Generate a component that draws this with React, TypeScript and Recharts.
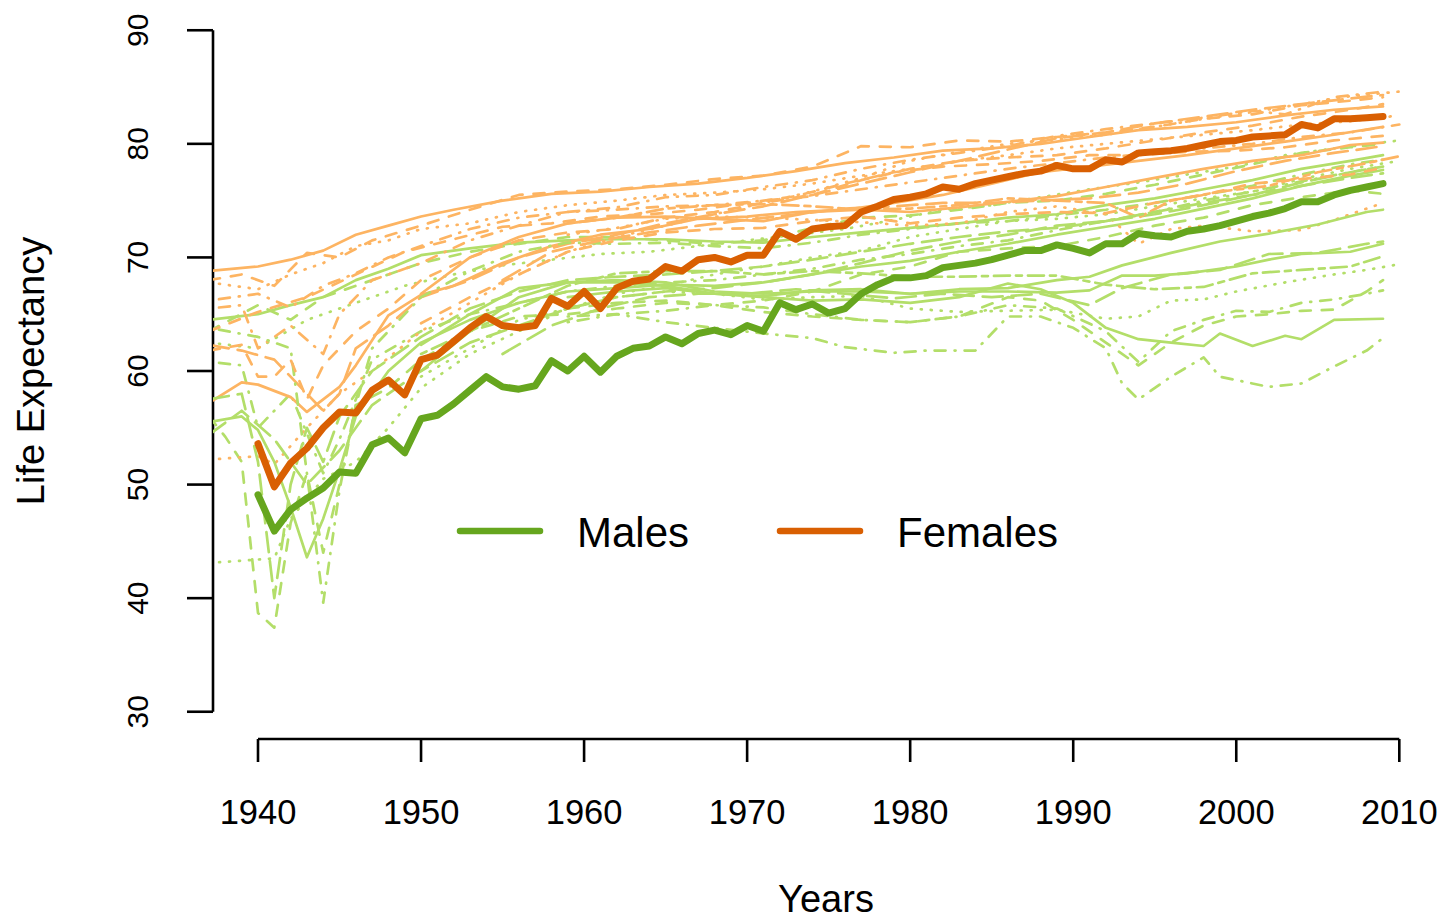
import { LineChart, Line, XAxis, YAxis, ReferenceLine, Legend, Label } from "recharts"

const FONT = '"Liberation Sans", Arial, Helvetica, sans-serif'
const LIGHT_GREEN = "#b3de69"
const LIGHT_ORANGE = "#fdb462"
const DARK_GREEN = "#66a61e"
const DARK_ORANGE = "#d95f02"

const X_TICKS = [1940, 1950, 1960, 1970, 1980, 1990, 2000, 2010]
const Y_TICKS = [30, 40, 50, 60, 70, 80, 90]

// highlighted country, one value per year 1940..2009
const YEARS = Array.from({ length: 70 }, (_, i) => 1940 + i)
const MALES = [
  49.1, 45.9, 47.8, 48.8, 49.7, 51.1, 51.0, 53.5, 54.1, 52.8,
  55.8, 56.1, 57.1, 58.3, 59.5, 58.6, 58.4, 58.7, 60.9, 60.0,
  61.3, 59.9, 61.3, 62.0, 62.2, 63.0, 62.4, 63.3, 63.6, 63.2,
  64.0, 63.5, 66.0, 65.4, 65.9, 65.1, 65.5, 66.8, 67.6, 68.2,
  68.2, 68.4, 69.1, 69.3, 69.5, 69.8, 70.2, 70.6, 70.6, 71.1,
  70.8, 70.4, 71.2, 71.2, 72.1, 71.9, 71.8, 72.3, 72.5, 72.8,
  73.2, 73.6, 73.9, 74.3, 74.9, 74.9, 75.5, 75.9, 76.2, 76.5,
]
const FEMALES = [
  53.6, 49.8, 51.9, 53.2, 55.0, 56.4, 56.3, 58.3, 59.2, 57.9,
  61.0, 61.4, 62.6, 63.8, 64.8, 64.0, 63.8, 64.0, 66.4, 65.7,
  67.0, 65.5, 67.3, 67.9, 68.1, 69.2, 68.8, 69.8, 70.0, 69.6,
  70.2, 70.2, 72.3, 71.6, 72.5, 72.7, 72.8, 74.0, 74.5, 75.1,
  75.3, 75.6, 76.2, 76.0, 76.5, 76.8, 77.1, 77.4, 77.6, 78.1,
  77.8, 77.8, 78.6, 78.4, 79.2, 79.3, 79.4, 79.6, 79.9, 80.2,
  80.3, 80.6, 80.7, 80.8, 81.7, 81.4, 82.2, 82.2, 82.3, 82.4,
]

// other countries, females: [year, life expectancy]
const F01 = [[1937, 68.8], [1940, 69.2], [1942, 69.8], [1944, 70.6], [1946, 72], [1948, 72.8], [1950, 73.6], [1952, 74.2], [1955, 75], [1958, 75.6], [1961, 75.8], [1964, 76.2], [1967, 76.5], [1970, 77], [1973, 77.6], [1976, 78.3], [1979, 78.8], [1982, 79.4], [1985, 79.6], [1988, 80], [1991, 80.6], [1994, 81.2], [1997, 81.5], [2000, 81.9], [2003, 82.5], [2006, 83], [2009, 83.3]]
const F02 = [[1937, 68], [1939, 68.5], [1941, 67.5], [1943, 70.4], [1945, 70], [1947, 71.5], [1950, 72.8], [1953, 74.2], [1956, 75.5], [1959, 75.8], [1962, 76], [1965, 76.4], [1968, 76.9], [1971, 77.2], [1974, 78], [1977, 79.8], [1980, 79.7], [1983, 80.3], [1986, 80.2], [1989, 80.6], [1992, 81], [1995, 81.5], [1998, 82.2], [2001, 82.6], [2004, 83.4], [2007, 83.8], [2009, 84.1]]
const F03 = [[1937, 67.8], [1940, 67.2], [1942, 68.5], [1944, 69.5], [1946, 71], [1948, 71.5], [1950, 72.5], [1953, 73], [1956, 74], [1959, 74.6], [1962, 75], [1965, 75.5], [1968, 75.7], [1971, 76], [1974, 76.5], [1977, 77.2], [1980, 77.8], [1983, 78.5], [1986, 79], [1989, 79.6], [1992, 80], [1995, 80.4], [1998, 80.8], [2001, 81.2], [2004, 81.7], [2007, 82], [2010, 82.5]]
const F04 = [[1937, 65.5], [1939, 65.8], [1940, 62], [1942, 64], [1944, 61.5], [1945, 65], [1947, 68], [1950, 69.5], [1953, 71.5], [1956, 72.8], [1959, 74], [1962, 74.4], [1965, 75.3], [1968, 75.5], [1971, 76.2], [1974, 76.8], [1977, 77.8], [1980, 78.6], [1983, 79.2], [1986, 79.8], [1989, 80.7], [1992, 81.3], [1995, 81.8], [1998, 82.3], [2001, 82.9], [2003, 82.6], [2006, 84.1], [2009, 84.6]]
const F05 = [[1937, 62.3], [1939, 61.8], [1941, 61], [1943, 58], [1944, 56.5], [1945, 58], [1946, 62], [1948, 64], [1950, 66.5], [1953, 68], [1956, 70], [1959, 71.2], [1962, 72], [1965, 73], [1968, 73.8], [1971, 74.5], [1974, 75.5], [1977, 76.5], [1980, 77.5], [1983, 78.5], [1986, 79.5], [1989, 80.5], [1992, 81], [1995, 81.8], [1998, 82.4], [2001, 83], [2004, 83.5], [2007, 84], [2009, 84.3]]
const F06 = [[1937, 52.2], [1940, 52.5], [1941, 51.8], [1943, 55], [1945, 58], [1947, 60], [1950, 63.5], [1953, 66], [1956, 68.5], [1959, 70.5], [1962, 71.8], [1965, 72.8], [1968, 73.8], [1971, 74.8], [1974, 75.8], [1977, 77], [1980, 78.5], [1983, 79.3], [1986, 80], [1989, 80.4], [1992, 80.8], [1995, 81.5], [1998, 82.2], [2001, 82.8], [2004, 83.5], [2007, 84.2], [2010, 84.6]]
const F07 = [[1937, 57.2], [1939, 59], [1940, 58.8], [1942, 57.7], [1943, 56.4], [1945, 58.6], [1946, 60.5], [1948, 64.9], [1950, 66.7], [1952, 67.5], [1955, 69.5], [1958, 71], [1961, 72], [1964, 72.5], [1967, 73.4], [1970, 73.6], [1973, 74], [1976, 74.2], [1979, 74.8], [1982, 75.5], [1985, 76.5], [1988, 77.5], [1991, 78], [1994, 78.5], [1997, 79], [2000, 79.6], [2003, 80.2], [2006, 80.8], [2009, 81.5]]
const F08 = [[1937, 61.8], [1939, 62.3], [1940, 59.5], [1941, 59.5], [1942, 61], [1943, 57.5], [1944, 60.5], [1946, 63.5], [1948, 65.5], [1950, 68], [1953, 70], [1956, 71.5], [1959, 72.2], [1962, 72.5], [1965, 73.5], [1968, 74], [1971, 74.8], [1974, 75.5], [1977, 76.8], [1980, 77.8], [1983, 78.5], [1986, 78.8], [1989, 79], [1992, 79.6], [1995, 80.3], [1998, 81], [2001, 81.6], [2004, 82.4], [2007, 83], [2009, 83.5]]
const F09 = [[1937, 66.2], [1940, 66.8], [1942, 65.6], [1944, 67.5], [1946, 68.6], [1948, 70], [1950, 71], [1953, 72.5], [1956, 73.5], [1959, 74], [1962, 74.2], [1965, 74.5], [1968, 74.6], [1971, 75], [1974, 75.4], [1977, 76], [1980, 76.6], [1983, 77.2], [1986, 77.8], [1989, 78.3], [1992, 78.8], [1995, 79.2], [1998, 79.6], [2001, 80], [2004, 80.6], [2007, 81], [2010, 81.7]]
const F10 = [[1950, 66.8], [1953, 70], [1956, 71.8], [1959, 73], [1962, 73.5], [1965, 73.6], [1968, 73.4], [1971, 73.2], [1974, 74], [1977, 74.2], [1980, 74], [1983, 74.4], [1986, 74.9], [1989, 75.4], [1992, 76.2], [1995, 77], [1998, 77.8], [2001, 78.5], [2004, 79], [2007, 79.9], [2009, 80.1]]
const F11 = [[1950, 64.2], [1953, 66.5], [1956, 68.5], [1959, 70.5], [1962, 71.5], [1965, 72.2], [1968, 72.5], [1971, 72.6], [1974, 73.2], [1977, 73.6], [1980, 73], [1983, 73.5], [1986, 73.8], [1989, 74], [1992, 73.9], [1995, 74.8], [1998, 75.5], [2001, 76.5], [2004, 76.9], [2007, 77.3], [2009, 77.9]]
const F12 = [[1959, 72], [1962, 72.6], [1965, 73.4], [1968, 73.6], [1971, 73.5], [1974, 73.3], [1977, 73.1], [1980, 72.8], [1983, 73], [1986, 74], [1989, 74.5], [1992, 73.8], [1994, 71.2], [1996, 72.5], [1998, 72.8], [2001, 72.3], [2004, 72.4], [2006, 73.3], [2009, 74.8]]
const F13 = [[1955, 68], [1958, 70.5], [1961, 71.5], [1964, 72.2], [1967, 72.8], [1970, 73.3], [1973, 73.8], [1976, 74.3], [1979, 74.5], [1982, 74.8], [1985, 74.8], [1988, 75], [1991, 75.2], [1994, 75.7], [1997, 76.5], [2000, 77.6], [2003, 78.5], [2006, 79.2], [2009, 79.8]]
const F14 = [[1959, 73], [1962, 73.5], [1965, 74.3], [1968, 74.6], [1971, 74.7], [1974, 74.5], [1977, 74.2], [1980, 74.3], [1983, 74.6], [1986, 75.2], [1989, 75], [1992, 74.8], [1994, 73.5], [1996, 75], [1999, 75.8], [2002, 76.3], [2005, 77.5], [2008, 78.3], [2010, 78.9]]
const F15 = [[1937, 63.5], [1940, 65.2], [1943, 66.5], [1946, 68.5], [1949, 70.5], [1952, 71.6], [1955, 72.7], [1958, 73], [1961, 73.6], [1964, 73.8], [1967, 74.2], [1970, 74.8], [1973, 75.4], [1976, 76.5], [1979, 77.5], [1982, 78], [1985, 78.2], [1988, 78.5], [1991, 79], [1994, 79], [1997, 79.3], [2000, 79.4], [2003, 79.7], [2006, 80.3], [2009, 80.7]]

// other countries, males
const M01 = [[1937, 64.5], [1940, 65], [1942, 65.8], [1944, 66.5], [1946, 68], [1948, 69], [1950, 70.2], [1953, 70.8], [1956, 71.3], [1959, 71.5], [1962, 71.6], [1965, 71.6], [1968, 71.4], [1971, 71.3], [1974, 71.8], [1977, 72.2], [1980, 72.6], [1983, 73], [1986, 73.5], [1989, 73.8], [1992, 74.6], [1995, 75.2], [1998, 76], [2001, 76.8], [2004, 77.8], [2007, 78.5], [2009, 79]]
const M02 = [[1937, 63.5], [1940, 65.8], [1942, 64.5], [1944, 66.5], [1946, 67.5], [1948, 68.5], [1950, 69.5], [1953, 70.5], [1956, 71.2], [1959, 71.8], [1962, 71.8], [1965, 71.5], [1968, 71.2], [1971, 71.5], [1974, 72.6], [1977, 73.5], [1980, 73.7], [1983, 74.2], [1986, 74.8], [1989, 75], [1992, 75.6], [1995, 76.4], [1998, 77.3], [2001, 78.2], [2004, 79.2], [2007, 79.7], [2009, 80]]
const M03 = [[1937, 62.5], [1940, 62], [1943, 64.5], [1946, 66], [1949, 67.5], [1952, 68.5], [1955, 69.3], [1958, 69.8], [1961, 70.3], [1964, 70.5], [1967, 71], [1970, 71.5], [1973, 72], [1976, 72.5], [1979, 73.3], [1982, 74.2], [1985, 74.6], [1988, 75.3], [1991, 76], [1994, 76.6], [1997, 77.3], [2000, 78], [2003, 79], [2006, 79.6], [2010, 80.3]]
const M04 = [[1937, 60.8], [1939, 60.5], [1940, 55], [1942, 58], [1944, 51], [1945, 54], [1947, 61], [1950, 63.5], [1953, 65], [1956, 66], [1959, 67], [1962, 67.5], [1965, 67.8], [1968, 68], [1971, 68.5], [1974, 69], [1977, 69.8], [1980, 70.3], [1983, 71], [1986, 71.5], [1989, 72.4], [1992, 73.2], [1995, 74], [1998, 75], [2001, 75.8], [2004, 76.7], [2007, 77.5], [2009, 78]]
const M05 = [[1937, 56], [1938, 54.2], [1939, 52], [1940, 38.7], [1941, 37.4], [1942, 46.6], [1943, 51], [1944, 44], [1945, 50], [1946, 57], [1948, 58.5], [1950, 61], [1953, 63.5], [1956, 64.8], [1959, 65], [1962, 65.5], [1965, 66], [1968, 65.8], [1971, 66.2], [1974, 67], [1977, 68.5], [1980, 69.2], [1983, 70.5], [1986, 70.8], [1989, 71], [1992, 71.8], [1995, 72.8], [1998, 73.5], [2001, 74.6], [2004, 75.3], [2007, 75.9], [2009, 75.6]]
const M06 = [[1937, 55.5], [1939, 56], [1940, 54.8], [1941, 52], [1942, 48], [1943, 43.6], [1944, 47], [1945, 51.3], [1946, 56], [1948, 60], [1950, 62.5], [1953, 64.5], [1956, 66], [1959, 67], [1962, 67.3], [1965, 67.6], [1968, 67.5], [1971, 67.8], [1974, 68.5], [1977, 69.2], [1980, 69.7], [1983, 70.5], [1986, 71.2], [1989, 72], [1992, 72.7], [1995, 73.4], [1998, 74.3], [2001, 75.2], [2004, 76.3], [2007, 77.2], [2009, 77.7]]
const M07 = [[1937, 63.8], [1940, 63], [1942, 62], [1943, 51], [1944, 39.6], [1945, 49.5], [1946, 57], [1947, 62], [1950, 66.5], [1953, 68.8], [1956, 70.5], [1959, 71.3], [1962, 71.2], [1965, 71.3], [1968, 71], [1971, 70.8], [1974, 71.3], [1977, 72], [1980, 72.5], [1983, 73], [1986, 73.2], [1989, 73.7], [1992, 74.2], [1995, 74.8], [1998, 75.5], [2001, 76.3], [2004, 77.3], [2007, 78.2], [2009, 78.6]]
const M08 = [[1937, 43.1], [1939, 43.3], [1941, 43.5], [1942, 47], [1944, 50.5], [1946, 52], [1948, 55], [1950, 58.5], [1953, 61.5], [1956, 63.5], [1959, 65.5], [1962, 66.8], [1965, 67.5], [1968, 68.5], [1971, 69.2], [1974, 70], [1977, 70.6], [1980, 71.8], [1983, 72.5], [1986, 73.2], [1989, 73.4], [1992, 73.8], [1995, 74.5], [1998, 75.2], [2001, 75.8], [2004, 76.9], [2007, 77.8], [2010, 78.5]]
const M09 = [[1937, 54.4], [1939, 56.5], [1941, 54], [1943, 50], [1945, 53], [1947, 57], [1950, 60], [1953, 62.5], [1956, 64], [1959, 65.5], [1962, 66.5], [1965, 67], [1968, 67.3], [1971, 67.8], [1974, 68.5], [1977, 69.5], [1980, 70.6], [1983, 71.4], [1986, 72], [1989, 72.8], [1992, 73.2], [1995, 73.8], [1998, 74.6], [2001, 75.5], [2004, 76.6], [2007, 77.5], [2009, 78]]
const M10 = [[1959, 64.8], [1962, 65], [1965, 64.3], [1968, 63.8], [1971, 63.3], [1974, 62.9], [1976, 62.1], [1979, 61.6], [1981, 61.8], [1984, 61.8], [1986, 64.8], [1988, 64.8], [1990, 63.8], [1992, 62], [1993, 58.9], [1994, 57.5], [1996, 59.5], [1998, 61.2], [1999, 59.5], [2002, 58.6], [2004, 58.9], [2006, 60.4], [2008, 61.8], [2009, 62.9]]
const M11 = [[1959, 66.5], [1962, 67], [1965, 67.3], [1968, 66.8], [1971, 66.5], [1974, 66.2], [1977, 66.3], [1980, 66], [1983, 66.5], [1986, 67.7], [1988, 67.2], [1990, 66], [1992, 63.8], [1994, 62.8], [1996, 62.5], [1998, 62.2], [1999, 63.3], [2001, 62.2], [2003, 63.1], [2004, 62.8], [2006, 64.5], [2009, 64.6]]
const M12 = [[1959, 65.5], [1962, 66], [1965, 66.2], [1968, 65.8], [1971, 65.2], [1974, 64.8], [1977, 64.5], [1980, 64.3], [1983, 64.8], [1986, 66.5], [1988, 66.2], [1990, 64.5], [1992, 62.5], [1994, 60.5], [1996, 62.5], [1998, 64], [2000, 64.8], [2002, 65], [2004, 65.3], [2006, 65.4], [2008, 67], [2009, 68]]
const M13 = [[1959, 64.3], [1962, 65], [1965, 65.3], [1968, 65.8], [1971, 65.6], [1974, 65], [1977, 64.5], [1980, 64.3], [1983, 64.8], [1986, 65.8], [1989, 65.5], [1992, 63.5], [1994, 60.8], [1996, 63.5], [1998, 64.5], [2000, 65.3], [2002, 65.2], [2004, 66], [2006, 66.3], [2008, 66.8], [2009, 67.1]]
const M14 = [[1950, 59.5], [1953, 62], [1956, 64.5], [1959, 65.5], [1962, 66.5], [1965, 67], [1968, 66.8], [1971, 66.3], [1974, 66.5], [1977, 66.6], [1980, 65.5], [1983, 65.2], [1986, 65.3], [1989, 65.4], [1992, 64.6], [1994, 64.8], [1996, 66.2], [1998, 66.3], [2000, 67], [2003, 67.8], [2006, 68.5], [2008, 68.9], [2010, 69.4]]
const M15 = [[1955, 61.5], [1958, 64], [1961, 65.5], [1964, 66.5], [1967, 66.8], [1970, 66.8], [1973, 67.2], [1976, 66.8], [1979, 66.4], [1982, 66.8], [1985, 66.5], [1988, 66.8], [1991, 65.8], [1993, 67.3], [1996, 68.5], [1999, 68.9], [2002, 70.3], [2005, 70.4], [2008, 71.2], [2009, 71.4]]
const M16 = [[1950, 62.3], [1953, 65], [1956, 67.3], [1959, 67.8], [1962, 67.8], [1965, 67.5], [1968, 66.8], [1971, 66.6], [1974, 67.1], [1977, 67.2], [1980, 66.8], [1983, 67.2], [1986, 67.3], [1989, 68], [1991, 68.3], [1993, 69.3], [1996, 70.4], [1999, 71.4], [2002, 72.1], [2005, 72.9], [2008, 74], [2009, 74.2]]
const M17 = [[1950, 61.5], [1953, 63.5], [1956, 65.5], [1959, 67.5], [1962, 68.6], [1965, 68.8], [1968, 68.8], [1971, 68.5], [1974, 68.8], [1977, 68.6], [1980, 68.3], [1983, 68.3], [1986, 68.4], [1989, 68.4], [1992, 67.6], [1995, 67.2], [1998, 67.4], [2001, 68.6], [2004, 68.9], [2007, 69.2], [2009, 70.1]]
const M18 = [[1937, 57.5], [1939, 58], [1940, 52], [1941, 40], [1942, 50], [1943, 55], [1944, 52], [1945, 56], [1947, 60], [1950, 63], [1953, 65.5], [1956, 67], [1959, 68], [1962, 68.3], [1965, 68.5], [1968, 68.8], [1971, 69.2], [1974, 69.8], [1977, 70.5], [1980, 71.2], [1983, 71.8], [1986, 72.3], [1989, 72.6], [1992, 73.2], [1995, 74], [1998, 74.8], [2001, 75.5], [2004, 76.3], [2007, 77], [2009, 77.4]]
const M19 = [[1950, 60], [1953, 63.5], [1956, 66.5], [1959, 67.8], [1962, 68], [1965, 67.8], [1968, 67], [1971, 66.8], [1974, 67], [1977, 67], [1980, 66.8], [1983, 67], [1986, 67], [1989, 66.9], [1991, 67.1], [1993, 68.4], [1995, 68.4], [1997, 68.6], [2000, 69.2], [2002, 69.8], [2004, 70.3], [2007, 70.5], [2009, 71.2]]

const FEMALE_BG = [F01, F02, F03, F04, F05, F06, F07, F08, F09, F10, F11, F12, F13, F14, F15]
const MALE_BG = [M01, M02, M03, M04, M05, M06, M07, M08, M09, M10, M11, M12, M13, M14, M15, M16, M17, M18, M19]
const FEMALE_LTY = ["solid", "dashed", "dotted", "dotdash", "longdash", "dotted", "solid", "dashed", "dotdash", "solid", "dashed", "dotted", "longdash", "twodash", "dashed"]
const MALE_LTY = ["solid", "dashed", "dotted", "dotdash", "dashed", "solid", "dotdash", "dotted", "longdash", "dotdash", "solid", "dashed", "dotdash", "dotted", "longdash", "solid", "twodash", "longdash", "solid"]

// R-like line types
const DASH: Record<string, string | undefined> = {
  solid: undefined,
  dashed: "11 11",
  dotted: "1 9",
  dotdash: "1 9 11 9",
  longdash: "20 9",
  twodash: "6 6 16 6",
}

const toRows = (pts: number[][]) => pts.map(([year, v]) => ({ year, v }))
const maleRows = YEARS.map((year, i) => ({ year, v: MALES[i] }))
const femaleRows = YEARS.map((year, i) => ({ year, v: FEMALES[i] }))

function XTick({ x, y, payload }: any) {
  return (
    <text x={x} y={y + 62} textAnchor="middle" fontSize={34.5} fontFamily={FONT} fill="#000">
      {payload.value}
    </text>
  )
}

function YTick({ x, y, payload }: any) {
  const bx = x - 39
  return (
    <text x={bx} y={y} transform={`rotate(-90, ${bx}, ${y})`} textAnchor="middle" fontSize={30} fontFamily={FONT} fill="#000">
      {payload.value}
    </text>
  )
}

function LegendBox() {
  return (
    <svg width={640} height={56}>
      <line x1={5} y1={28} x2={85} y2={28} stroke={DARK_GREEN} strokeWidth={6.5} strokeLinecap="round" />
      <text x={122} y={44} fontSize={42} fontFamily={FONT} fill="#000">Males</text>
      <line x1={325} y1={28} x2={405} y2={28} stroke={DARK_ORANGE} strokeWidth={6.5} strokeLinecap="round" />
      <text x={442} y={44} fontSize={42} fontFamily={FONT} fill="#000">Females</text>
    </svg>
  )
}

export default function App() {
  const bg: any[] = []
  const n = Math.max(FEMALE_BG.length, MALE_BG.length)
  for (let i = 0; i < n; i++) {
    if (FEMALE_BG[i]) {
      bg.push(
        <Line key={`f${i}`} data={toRows(FEMALE_BG[i])} dataKey="v" type="linear" stroke={LIGHT_ORANGE}
          strokeWidth={2.7} strokeDasharray={DASH[FEMALE_LTY[i]]} strokeLinecap="round" strokeLinejoin="round"
          dot={false} activeDot={false} isAnimationActive={false} legendType="none" />
      )
    }
    if (MALE_BG[i]) {
      bg.push(
        <Line key={`m${i}`} data={toRows(MALE_BG[i])} dataKey="v" type="linear" stroke={LIGHT_GREEN}
          strokeWidth={2.7} strokeDasharray={DASH[MALE_LTY[i]]} strokeLinecap="round" strokeLinejoin="round"
          dot={false} activeDot={false} isAnimationActive={false} legendType="none" />
      )
    }
  }

  return (
    <div style={{ position: "absolute", left: 0, top: 0, background: "#fff" }}>
      <LineChart width={1443} height={922} margin={{ top: 3, right: 15, bottom: 0, left: 0 }}>
        <XAxis type="number" dataKey="year" domain={[1937.24, 2011.76]} allowDataOverflow ticks={X_TICKS}
          interval={0} axisLine={false} tickLine={{ stroke: "#000", strokeWidth: 2.6 }} tickSize={23} tickMargin={0}
          height={183} tick={(p: any) => <XTick {...p} />}>
          <Label content={() => (
            <text x={826} y={912} textAnchor="middle" fontSize={38} fontFamily={FONT} fill="#000">Years</text>
          )} />
        </XAxis>
        <YAxis type="number" domain={[27.6, 92.4]} allowDataOverflow ticks={Y_TICKS} interval={0}
          axisLine={false} tickLine={{ stroke: "#000", strokeWidth: 2.6 }} tickSize={26} tickMargin={0}
          width={213} tick={(p: any) => <YTick {...p} />}>
          <Label content={() => (
            <text transform="translate(44, 371) rotate(-90)" textAnchor="middle" fontSize={38} fontFamily={FONT} fill="#000">Life Expectancy</text>
          )} />
        </YAxis>
        <ReferenceLine segment={[{ x: 1940, y: 27.6 }, { x: 2010, y: 27.6 }]} stroke="#000" strokeWidth={2.6} ifOverflow="visible" />
        <ReferenceLine segment={[{ x: 1937.24, y: 30 }, { x: 1937.24, y: 90 }]} stroke="#000" strokeWidth={2.6} ifOverflow="visible" />
        {bg}
        <Line data={maleRows} dataKey="v" name="Males" type="linear" stroke={DARK_GREEN} strokeWidth={7}
          strokeLinejoin="round" strokeLinecap="round" dot={false} activeDot={false} isAnimationActive={false} />
        <Line data={femaleRows} dataKey="v" name="Females" type="linear" stroke={DARK_ORANGE} strokeWidth={7}
          strokeLinejoin="round" strokeLinecap="round" dot={false} activeDot={false} isAnimationActive={false} />
        <Legend layout="horizontal" verticalAlign="middle" align="center"
          wrapperStyle={{ left: 455, top: 503, width: 640, height: 56 }} content={() => <LegendBox />} />
      </LineChart>
    </div>
  )
}
